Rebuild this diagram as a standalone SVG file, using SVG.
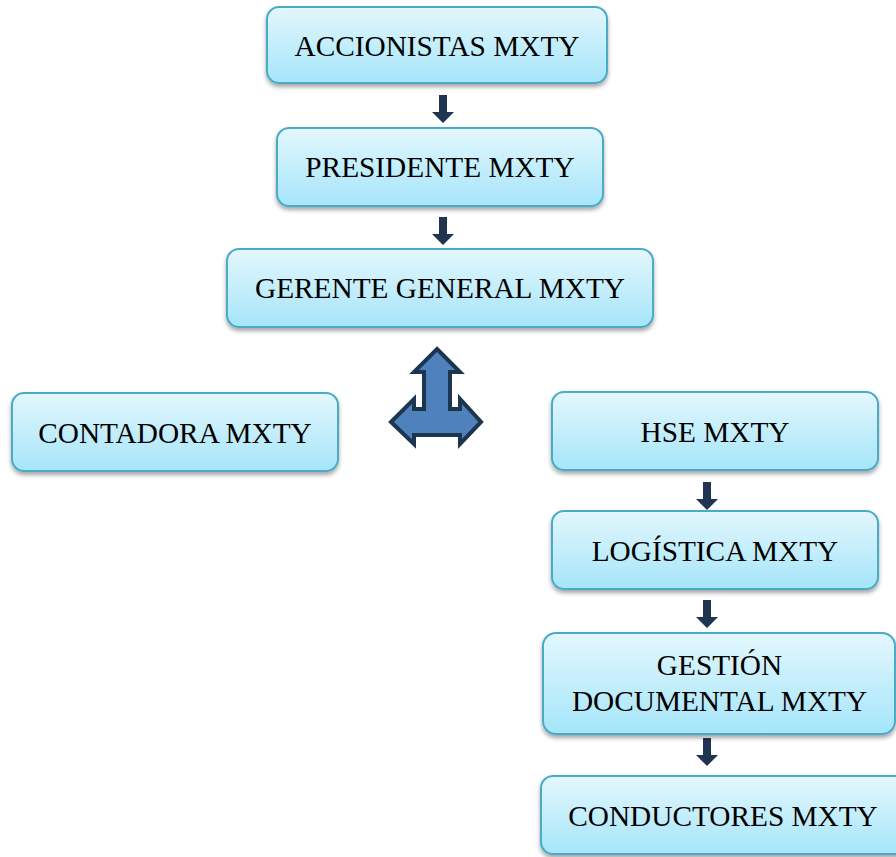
<svg xmlns="http://www.w3.org/2000/svg" width="896" height="857" viewBox="0 0 896 857">
<defs>
<linearGradient id="g" x1="0" y1="0" x2="0" y2="1">
<stop offset="0" stop-color="#e3f7fd"/>
<stop offset="1" stop-color="#a5e5fa"/>
</linearGradient>
<filter id="sh" x="-10%" y="-20%" width="120%" height="150%">
<feDropShadow dx="0" dy="3" stdDeviation="2" flood-color="#000" flood-opacity="0.35"/>
</filter>
<path id="arr" d="M-4,0 H4 V17 H11 L0,28 L-11,17 H-4 Z" fill="#1f3552"/>
<style>
.box{fill:url(#g);stroke:#4aabc6;stroke-width:2;filter:url(#sh)}
.t{font-family:"Liberation Serif","Times New Roman",serif;font-size:29.3px;fill:#000;text-anchor:middle}
</style>
</defs>
<rect width="896" height="857" fill="#fff"/>
<g id="connectors">
<use href="#arr" x="443" y="95"/>
<use href="#arr" x="443" y="217"/>
<use href="#arr" x="707" y="482"/>
<use href="#arr" x="707" y="600"/>
<use href="#arr" x="707" y="738"/>
<path d="M437,349 L460,372 L450,372 L450,409 L460,409 L460,399 L481,422 L460,444 L460,435 L414,435 L414,444 L391,422 L414,399 L414,409 L424,409 L424,372 L414,372 Z" fill="#4f81bd" stroke="#1e3550" stroke-width="4" stroke-linejoin="miter"/>
</g>
<g id="accionistas"><rect class="box" x="267" y="7" width="340" height="76" rx="12"/><text class="t" x="437" y="56">ACCIONISTAS MXTY</text></g>
<g id="presidente"><rect class="box" x="277" y="128" width="326" height="78" rx="12"/><text class="t" x="440" y="177">PRESIDENTE MXTY</text></g>
<g id="gerente"><rect class="box" x="227" y="249" width="426" height="78" rx="12"/><text class="t" x="440" y="298">GERENTE GENERAL MXTY</text></g>
<g id="contadora"><rect class="box" x="12" y="393" width="326" height="78" rx="12"/><text class="t" x="175" y="443">CONTADORA MXTY</text></g>
<g id="hse"><rect class="box" x="552" y="392" width="326" height="78" rx="12"/><text class="t" x="715" y="442">HSE MXTY</text></g>
<g id="logistica"><rect class="box" x="552" y="511" width="326" height="78" rx="12"/><text class="t" x="715" y="561">LOGÍSTICA MXTY</text></g>
<g id="gestion"><rect class="box" x="543" y="633" width="352" height="101" rx="13"/><text class="t" x="719.5" y="675">GESTIÓN</text><text class="t" x="719.5" y="711">DOCUMENTAL MXTY</text></g>
<g id="conductores"><rect class="box" x="541" y="776" width="370" height="78" rx="12"/><text class="t" x="723" y="826">CONDUCTORES MXTY</text></g>
</svg>
